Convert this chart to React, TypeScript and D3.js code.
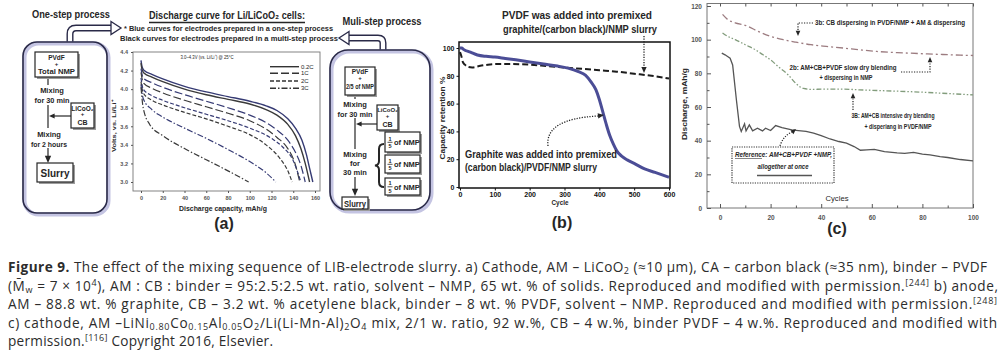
import React, { useEffect, useRef } from 'react';
import * as d3 from 'd3';

type Pt = [number, number];

// (a) discharge curves: [capacity mAh/g, volts]; blue = one-step, black = multi-step
const rateLabels = ['0.2C', '1C', '2C', '3C'];
const oneStep02: Pt[] = [[0, 4.31], [1, 4.24], [3, 4.2], [10, 4.16], [20, 4.11], [40, 4.03], [60, 3.97], [80, 3.92], [100, 3.87], [115, 3.82], [125, 3.77], [135, 3.68], [142, 3.58], [148, 3.45], [152, 3.3], [155, 3.15], [158, 3.0]];
const multiStep02: Pt[] = [[0, 4.28], [1, 4.21], [3, 4.17], [10, 4.13], [20, 4.08], [40, 4.0], [60, 3.94], [80, 3.89], [100, 3.84], [115, 3.78], [125, 3.72], [135, 3.62], [142, 3.5], [147, 3.36], [151, 3.2], [155, 3.0]];
const oneStep1C: Pt[] = [[0, 4.22], [2, 4.12], [10, 4.07], [20, 4.02], [40, 3.94], [60, 3.87], [80, 3.8], [100, 3.72], [115, 3.64], [125, 3.56], [135, 3.45], [142, 3.32], [147, 3.18], [151, 3.0]];
const multiStep1C: Pt[] = [[0, 4.18], [2, 4.07], [10, 4.01], [20, 3.96], [40, 3.88], [60, 3.81], [80, 3.74], [100, 3.66], [115, 3.57], [125, 3.48], [135, 3.36], [141, 3.22], [146, 3.0]];
const oneStep2C: Pt[] = [[0, 4.12], [2, 4.0], [10, 3.93], [20, 3.88], [40, 3.8], [60, 3.73], [80, 3.66], [100, 3.58], [120, 3.47], [130, 3.38], [140, 3.23], [147, 3.0]];
const multiStep2C: Pt[] = [[0, 4.08], [2, 3.96], [10, 3.88], [20, 3.83], [40, 3.75], [60, 3.68], [80, 3.6], [100, 3.51], [115, 3.4], [128, 3.25], [135, 3.12], [139, 3.0]];
const oneStep3C: Pt[] = [[0, 4.05], [2, 3.9], [10, 3.78], [20, 3.7], [40, 3.58], [60, 3.47], [80, 3.35], [100, 3.22], [115, 3.1], [124, 3.0]];
const multiStep3C: Pt[] = [[0, 4.02], [2, 3.8], [8, 3.62], [20, 3.5], [40, 3.36], [60, 3.24], [80, 3.12], [99, 3.0]];
const capTicks = [0, 20, 40, 60, 80, 100, 120, 140, 160];
const voltTicks = [3.0, 3.2, 3.4, 3.6, 3.8, 4.0, 4.2, 4.4];

// (b) capacity retention %: [cycle, %]
const graphiteAddedLast: Pt[] = [[0, 100], [5, 100], [10, 99], [30, 97], [50, 95], [75, 94], [100, 93.5], [130, 92.5], [160, 91.5], [200, 90], [240, 88.5], [280, 87], [310, 85.5], [340, 83], [360, 80.5], [375, 76], [390, 70], [400, 63], [410, 54], [420, 45], [430, 37], [440, 31], [450, 26], [465, 22], [480, 19.5], [500, 17], [530, 13], [560, 10.5], [600, 7]];
const pvdfAddedLast: Pt[] = [[0, 97], [4, 94], [8, 90], [14, 88], [22, 86.5], [35, 86], [55, 87], [80, 88], [110, 88.5], [150, 88.5], [200, 88], [250, 87], [300, 86], [350, 85], [400, 84], [450, 83], [500, 81.5], [550, 80], [600, 78]];
const cycleTicksB = [0, 100, 200, 300, 400, 500, 600];
const retTicks = [0, 20, 40, 60, 80, 100];

// (c) discharge mAh/g: [cycle, value]
const curve3b: Pt[] = [[1, 115], [3, 112], [6, 110], [10, 108.5], [15, 105], [20, 102], [25, 100], [30, 98.5], [36, 97], [42, 96], [49, 95], [55, 94], [62, 93], [70, 92.3], [75, 92], [82, 91.5], [88, 91.2], [95, 90.8], [100, 90.6]];
const curve2b: Pt[] = [[1, 104], [3, 102], [6, 100], [10, 97], [14, 94], [17, 91], [20, 88], [23, 84], [27, 79], [30, 74], [33, 71], [36, 70.5], [42, 70.6], [49, 70.6], [55, 70.2], [62, 69.8], [70, 69.4], [80, 68.8], [90, 68], [100, 67.2]];
const curveRef: Pt[] = [[0.7, 92], [2, 91], [3, 90], [4, 89], [5, 85], [6.5, 64], [7.7, 48.5], [8.4, 45.5], [9.7, 50], [10.3, 45.8], [11.6, 49.4], [12.9, 45.8], [14.8, 47.4], [16.8, 45.8], [18, 47.4], [20, 46], [22, 49], [24.5, 47.8], [28.4, 46.4], [31, 46], [34, 45.5], [37, 44.5], [40, 43], [43.5, 41], [47, 39.5], [50, 38.5], [53, 36.5], [55.5, 34.3], [58, 34.5], [61, 34.8], [65, 33.5], [70, 32.7], [73, 32.5], [76.5, 33], [80, 32], [83, 31.5], [87, 30.5], [90, 30], [95, 28.8], [100, 28]];
const cycleTicksC = [0, 20, 40, 60, 80, 100];
const cycleMinorC = [10, 30, 50, 70, 90];
const dischTicks = [0, 20, 40, 60, 80, 100, 120];
const dischMinor = [10, 30, 50, 70, 90, 110];

const FONT = "'Liberation Sans', Arial, sans-serif";
const BLUE = '#363b74';
const DARK = '#262626';

type AxisProps = {
  scale: any; side: 'bottom' | 'left' | 'top'; at: number; values: number[];
  fmt?: (v: number) => string; tick?: number; size?: number; color?: string; pad?: number; labels?: boolean;
};

function Axis({ scale, side, at, values, fmt, tick = 3, size = 7, color = '#222', pad = 2, labels = true }: AxisProps) {
  const ref = useRef<SVGGElement>(null);
  useEffect(() => {
    const make = side === 'bottom' ? d3.axisBottom : side === 'top' ? d3.axisTop : d3.axisLeft;
    const ax = make(scale).tickValues(values).tickSizeInner(tick).tickSizeOuter(0).tickPadding(pad)
      .tickFormat(labels ? ((fmt || d3.format('d')) as any) : () => '');
    const g = d3.select(ref.current!);
    g.selectAll('*').remove();
    g.call(ax as any);
    g.attr('font-family', null).attr('font-size', null);
    g.select('.domain').remove();
    g.selectAll('line').attr('stroke', color);
    g.selectAll('text').attr('fill', color).attr('font-size', size).attr('font-weight', 'bold');
    if (!labels) g.selectAll('text').remove();
  });
  const tr = side === 'left' ? `translate(${at},0)` : `translate(0,${at})`;
  return <g ref={ref} transform={tr} />;
}

const Txt = ({ x, y, w, size = 8, anchor = 'middle', weight = 'bold', fill = DARK, italic = false, rot = false, children }: any) => (
  <text x={rot ? -y : x} y={rot ? x : y} transform={rot ? 'rotate(-90)' : undefined} fontSize={size}
    textAnchor={anchor} fontWeight={weight} fontStyle={italic ? 'italic' : undefined} fill={fill}
    textLength={w} lengthAdjust={w ? 'spacingAndGlyphs' : undefined}>{children}</text>
);

const Head = ({ x, y, angle, size = 4.5, fill = DARK }: any) => (
  <polygon points={`0,0 ${-size * 1.6},${-size * 0.7} ${-size * 1.6},${size * 0.7}`} fill={fill}
    transform={`translate(${x},${y}) rotate(${angle})`} />
);

const Box = ({ x, y, w, h }: any) => (
  <g>
    <rect x={x + 2} y={y + 2} width={w} height={h} fill="#9c9c9c" />
    <rect x={x} y={y} width={w} height={h} fill="#fff" stroke={DARK} strokeWidth={1.2} />
  </g>
);

const BigBox = ({ x, y, w, h, r }: any) => (
  <g>
    <rect x={x + 1.5} y={y + 1.5} width={w} height={h} rx={r} fill="none" stroke="#c4c4e2" strokeWidth={4} />
    <rect x={x} y={y} width={w} height={h} rx={r} fill="none" stroke="#2a2a48" strokeWidth={1.6} />
  </g>
);

const Hollow = ({ d, head }: any) => (
  <g>
    <path d={d} fill="none" stroke="#2a2a48" strokeWidth={7} />
    <path d={d} fill="none" stroke="#fff" strokeWidth={4.2} />
    <polygon points={head} fill="#fff" stroke="#2a2a48" strokeWidth={1.3} />
  </g>
);

const Frac = ({ x, y }: any) => (
  <g fontFamily={FONT} fontWeight="bold" fill={DARK}>
    <text x={x + 4} y={y - 1.5} fontSize={5.5} textAnchor="middle">1</text>
    <line x1={x + 1.5} x2={x + 6.5} y1={y + 0.3} y2={y + 0.3} stroke={DARK} strokeWidth={0.8} />
    <text x={x + 4} y={y + 6.3} fontSize={5.5} textAnchor="middle">5</text>
    <text x={x + 8} y={y + 3} fontSize={7.5}>of NMP</text>
  </g>
);

function PanelA() {
  const x = d3.scaleLinear().domain([0, 160]).range([141, 315]);
  const y = d3.scaleLinear().domain([3.0, 4.4]).range([182, 52]);
  const line = d3.line<Pt>().x(d => x(d[0])).y(d => y(d[1])).curve(d3.curveMonotoneX);
  const dashes = [undefined, '8,3', '4,2', '6,2,1.5,2'];
  const series = [
    [oneStep02, multiStep02], [oneStep1C, multiStep1C], [oneStep2C, multiStep2C], [oneStep3C, multiStep3C],
  ];
  const legendY = [66.7, 73.3, 81, 88.3];
  return (
    <g fontFamily={FONT}>
      {/* one-step flow chart */}
      <Hollow d="M 70 43 L 70 34 Q 70 28 76 28 L 112 28" head="111,21.5 121,28 111,34.5" />
      <BigBox x={23} y={42} w={84} h={171} r={14} />
      <Txt x={71} y={18} w={78} size={10}>One-step process</Txt>
      <line x1={48} x2={48} y1={77} y2={158} stroke={DARK} strokeWidth={1.2} />
      <Head x={48} y={163} angle={90} />
      <line x1={71} x2={53} y1={116} y2={116} stroke={DARK} strokeWidth={1.2} />
      <Head x={49} y={116} angle={180} size={3.5} />
      <Box x={35} y={52} w={43} h={25} />
      <Txt x={56.5} y={59.5} size={6.5}>PVdF</Txt>
      <Txt x={56.5} y={65.5} size={6}>+</Txt>
      <Txt x={56.5} y={73.5} size={7} w={37}>Total NMP</Txt>
      <rect x={34} y={85} width={36} height={20} fill="#fff" />
      <Txt x={52} y={93} size={7.5}>Mixing</Txt>
      <Txt x={52} y={103} size={7.5} w={35}>for 30 min</Txt>
      <Box x={71} y={103} w={23} h={25} />
      <Txt x={82.5} y={110.5} size={6.5}>LiCoO₂</Txt>
      <Txt x={82.5} y={116} size={6}>+</Txt>
      <Txt x={82.5} y={124.5} size={7}>CB</Txt>
      <rect x={31} y={128} width={38} height={20} fill="#fff" />
      <Txt x={49} y={137} size={7.5}>Mixing</Txt>
      <Txt x={49} y={146.5} size={7.5} w={36}>for 2 hours</Txt>
      <Box x={37} y={163} w={36} h={19} />
      <Txt x={55} y={177} size={10}>Slurry</Txt>

      {/* multi-step flow chart */}
      <Hollow d="M 383 51 L 383 43 Q 383 38 378 38 L 348 38" head="349,31.5 339,38 349,44.5" />
      <BigBox x={330} y={50} w={100} h={160} r={18} />
      <Txt x={382} y={25} w={79} size={10}>Muli-step process</Txt>
      <line x1={355} x2={355} y1={95} y2={191} stroke={DARK} strokeWidth={1.2} />
      <Head x={355} y={196} angle={90} />
      <line x1={377} x2={360} y1={124} y2={124} stroke={DARK} strokeWidth={1.2} />
      <Head x={356} y={124} angle={180} size={3.5} />
      <Box x={345} y={67} w={30} h={28} />
      <Txt x={360} y={73.5} size={6.5}>PVdF</Txt>
      <Txt x={360} y={79.5} size={6}>+</Txt>
      <Txt x={360} y={88.5} size={7} w={28}>2/5 of NMP</Txt>
      <rect x={337} y={99} width={36} height={19} fill="#fff" />
      <Txt x={355} y={107} size={7.5}>Mixing</Txt>
      <Txt x={355} y={116.5} size={7.5} w={35}>for 30 min</Txt>
      <Box x={377} y={105} w={21} h={25} />
      <Txt x={387.5} y={112} size={6}>LiCoO₂</Txt>
      <Txt x={387.5} y={118} size={6}>+</Txt>
      <Txt x={387.5} y={127} size={7}>CB</Txt>
      <rect x={340} y={149} width={30} height={28} fill="#fff" />
      <Txt x={355} y={157} size={7.5}>Mixing</Txt>
      <Txt x={355} y={166} size={7.5}>for</Txt>
      <Txt x={355} y={175} size={7.5}>30 min</Txt>
      <Box x={385} y={132} w={35} h={20} />
      <Box x={385} y={155} w={35} h={18} />
      <Box x={385} y={178} w={35} h={17} />
      <Frac x={386} y={142} />
      <Frac x={386} y={164} />
      <Frac x={386} y={186.5} />
      <path d="M 384 144 Q 379 144 379 149 L 379 161 Q 379 165 375 165.5 Q 379 166 379 170 L 379 182 Q 379 187 384 187"
        fill="none" stroke={DARK} strokeWidth={2} />
      <Box x={342} y={197} w={26} h={12} />
      <Txt x={355} y={206.5} size={8.5} w={22}>Slurry</Txt>

      {/* titles */}
      <Txt x={227} y={19} w={156} size={11}>Discharge curve for Li/LiCoO₂ cells:</Txt>
      <line x1={149} x2={305} y1={22.5} y2={22.5} stroke={DARK} strokeWidth={1.3} />
      <Txt x={124} y={30.5} w={209} size={8} anchor="start">* Blue curves for electrodes prepared in a one-step process</Txt>
      <Txt x={120} y={40.5} w={218} size={8} anchor="start">Black curves for electrodes prepared in a multi-step process</Txt>

      {/* discharge chart */}
      <rect x={133} y={52} width={187} height={139} fill="none" stroke="#777" strokeWidth={0.9} />
      <Axis scale={x} side="bottom" at={191} values={capTicks} tick={2} size={5.5} color="#555" pad={3} />
      <Axis scale={y} side="left" at={133} values={voltTicks} tick={2} size={5.5} color="#555" pad={3} fmt={d3.format('.1f')} />
      {series.map((pair, i) => pair.map((pts, j) => (
        <path key={`${i}-${j}`} d={line(pts) || ''} fill="none" stroke={j === 0 ? BLUE : '#3a3a3a'}
          strokeWidth={i === 0 ? 1.4 : 1.2} strokeDasharray={dashes[i]} />
      )))}
      {rateLabels.map((lab, i) => (
        <g key={lab}>
          <line x1={270} x2={299} y1={legendY[i]} y2={legendY[i]} stroke="#333" strokeWidth={1.4} strokeDasharray={dashes[i]} />
          <Txt x={301} y={legendY[i] + 2} size={6} anchor="start" weight="normal">{lab}</Txt>
        </g>
      ))}
      <Txt x={207} y={59} w={53} size={6} weight="normal">3.0–4.3V (vs. Li/Li⁺) @ 25°C</Txt>
      <Txt x={223} y={211} w={88} size={8}>Discharge capacity, mAh/g</Txt>
      <Txt x={115.5} y={126} w={52} size={6} rot>Volts, vs. Li/Li⁺</Txt>
      <Txt x={224} y={229} size={16}>(a)</Txt>
    </g>
  );
}

function PanelB() {
  const x = d3.scaleLinear().domain([0, 600]).range([460, 669]);
  const y = d3.scaleLinear().domain([0, 100]).range([187, 48]);
  const line = d3.line<Pt>().x(d => x(d[0])).y(d => y(d[1])).curve(d3.curveMonotoneX);
  return (
    <g fontFamily={FONT}>
      <path d={line(pvdfAddedLast) || ''} fill="none" stroke="#1c1c1c" strokeWidth={2} strokeDasharray="6,3" />
      <path d={line(graphiteAddedLast) || ''} fill="none" stroke="#4b4d96" strokeWidth={3} />
      <rect x={459} y={42} width={211} height={146} fill="none" stroke="#111" strokeWidth={1.5} />
      <Axis scale={x} side="bottom" at={188} values={cycleTicksB} tick={2.5} size={7} color="#111" pad={2} />
      <Axis scale={y} side="left" at={459} values={retTicks} tick={2.5} size={7} color="#111" pad={2} />
      <Txt x={560} y={204.5} w={17} size={6.5}>Cycle</Txt>
      <Txt x={445} y={118} w={83} size={6.5} rot>Capacity retention %</Txt>
      <Txt x={562} y={228} size={16}>(b)</Txt>
      <Txt x={577} y={19} w={150} size={10}>PVDF was added into premixed</Txt>
      <Txt x={580} y={33} w={154} size={10}>graphite/(carbon black)/NMP slurry</Txt>
      <path d="M 644 36 L 644 67" fill="none" stroke="#222" strokeWidth={1.3} strokeDasharray="1.2,1.4" />
      <Head x={644} y={73} angle={90} size={3.8} />
      <Txt x={465} y={157.5} w={152} size={10.5} anchor="start">Graphite was added into premixed</Txt>
      <Txt x={465} y={170.5} w={132} size={10.5} anchor="start">(carbon black)/PVDF/NMP slurry</Txt>
      <path d="M 548 146 C 546 128, 562 118, 598 116" fill="none" stroke="#222" strokeWidth={1.3} strokeDasharray="1.2,1.4" />
      <Head x={604} y={115} angle={-8} size={3.8} />
    </g>
  );
}

function PanelC() {
  const x = d3.scaleLinear().domain([0, 100]).range([720, 973]);
  const y = d3.scaleLinear().domain([0, 120]).range([208, 6]);
  const line = d3.line<Pt>().x(d => x(d[0])).y(d => y(d[1]));
  const smooth = d3.line<Pt>().x(d => x(d[0])).y(d => y(d[1])).curve(d3.curveMonotoneX);
  const dot = { fill: 'none', stroke: '#222', strokeWidth: 1.2, strokeDasharray: '1.2,1.4' };
  return (
    <g fontFamily={FONT}>
      <rect x={707} y={3.5} width={266} height={204.5} fill="none" stroke="#777" strokeWidth={1} />
      <Axis scale={x} side="bottom" at={208} values={cycleTicksC} tick={-4} size={6.5} color="#555" pad={7} />
      <Axis scale={x} side="bottom" at={208} values={cycleMinorC} tick={-2.5} color="#555" labels={false} />
      <Axis scale={x} side="top" at={3.5} values={cycleTicksC.concat(cycleMinorC)} tick={-3} color="#555" labels={false} />
      <Axis scale={y} side="left" at={707} values={dischTicks} tick={-4} size={6.5} color="#555" pad={5} />
      <Axis scale={y} side="left" at={707} values={dischMinor} tick={-2.5} color="#555" labels={false} />
      <path d={smooth(curve3b) || ''} fill="none" stroke="#9c7c80" strokeWidth={1.3} strokeDasharray="7,3,2,3" />
      <path d={smooth(curve2b) || ''} fill="none" stroke="#829c7c" strokeWidth={1.3} strokeDasharray="5,2,1.5,2,1.5,2" />
      <path d={line(curveRef) || ''} fill="none" stroke="#555" strokeWidth={1.3} />
      <Txt x={687} y={104} w={72} size={8} rot>Discharge, mAh/g</Txt>
      <Txt x={837} y={201} w={23} size={8} weight="normal">Cycles</Txt>
      <Txt x={837} y={234} size={16}>(c)</Txt>

      <Txt x={815} y={25} w={150} size={7} anchor="start">3b: CB dispersing in PVDF/NMP + AM &amp; dispersing</Txt>
      <path d="M 813 23 L 798 23 L 798 31" {...dot} />
      <Head x={798} y={36} angle={90} size={3.3} />
      <Txt x={843} y={70} w={107} size={7}>2b: AM+CB+PVDF slow dry blending</Txt>
      <Txt x={846} y={80} w={53} size={7}>+ dispersing in NMP</Txt>
      <path d="M 901 72 L 930 72 L 930 62" {...dot} />
      <Head x={930} y={57} angle={-90} size={3.3} />
      <Txt x={893} y={118} w={83} size={7}>3B: AM+CB intensive dry blending</Txt>
      <Txt x={898} y={129} w={67} size={7}>+ disperiang in PVDF/NMP</Txt>
      <path d="M 853 110 L 853 98" {...dot} />
      <Head x={853} y={93} angle={-90} size={3.3} />

      <rect x={732} y={147} width={102} height={36} fill="#fff" stroke="#333" strokeWidth={1.2} strokeDasharray="1.2,1.2" />
      <Txt x={735} y={157} w={97} size={7} anchor="start" italic>Reference:  AM+CB+PVDF +NMP,</Txt>
      <line x1={735} x2={762} y1={158.5} y2={158.5} stroke="#333" strokeWidth={0.6} />
      <Txt x={783} y={169} w={51} size={7} italic>allogether at once</Txt>
      <line x1={757} x2={812} y1={175.5} y2={175.5} stroke="#555" strokeWidth={1.3} />
      <path d="M 780 146 Q 783 136 792 132" {...dot} />
      <Head x={796} y={129} angle={-40} size={3.3} />
    </g>
  );
}

function Caption() {
  const base = { x: 8, fontSize: 13.6, fill: '#2c2c2c', fontFamily: "'Open Sans', 'Noto Sans', sans-serif", lengthAdjust: 'spacing' as const };
  const SUB = 9;
  const D = 2;
  return (
    <g>
      <text {...base} y={272} textLength={979}>
        <tspan fontWeight="bold">Figure 9.</tspan>{'  The effect of the mixing sequence of LIB-electrode slurry. a) Cathode, AM – LiCoO'}
        <tspan fontSize={SUB} dy={D}>2</tspan><tspan dy={-D}>{' (≈10 µm), CA – carbon black (≈35 nm), binder – PVDF'}</tspan>
      </text>
      <text {...base} y={290.6} textLength={990}>
        {'(M̄'}<tspan fontSize={SUB} dy={D}>w</tspan><tspan dy={-D}>{' = 7 × 10'}</tspan>
        <tspan fontSize={SUB} dy={-5}>4</tspan>
        <tspan dy={5}>{'), AM : CB : binder = 95:2.5:2.5 wt. ratio, solvent – NMP, 65 wt. % of solids. Reproduced and modified with permission.'}</tspan>
        <tspan fontSize={SUB} dy={-5}>[244]</tspan><tspan dy={5}>{' b) anode,'}</tspan>
      </text>
      <text {...base} y={309.2} textLength={989}>
        {'AM – 88.8 wt. % graphite, CB – 3.2 wt. % acetylene black, binder – 8 wt. % PVDF, solvent – NMP. Reproduced and modified with permission.'}
        <tspan fontSize={SUB} dy={-5}>[248]</tspan>
      </text>
      <text {...base} y={327.8} textLength={989}>
        {'c) cathode, AM –LiNi'}
        <tspan fontSize={SUB} dy={D}>0.80</tspan><tspan dy={-D}>Co</tspan>
        <tspan fontSize={SUB} dy={D}>0.15</tspan><tspan dy={-D}>Al</tspan>
        <tspan fontSize={SUB} dy={D}>0.05</tspan><tspan dy={-D}>O</tspan>
        <tspan fontSize={SUB} dy={D}>2</tspan><tspan dy={-D}>/Li(Li-Mn-Al)</tspan>
        <tspan fontSize={SUB} dy={D}>2</tspan><tspan dy={-D}>O</tspan>
        <tspan fontSize={SUB} dy={D}>4</tspan>
        <tspan dy={-D}>{' mix, 2/1 w. ratio, 92 w.%, CB – 4 w.%, binder PVDF – 4 w.%. Reproduced and modified with'}</tspan>
      </text>
      <text {...base} y={346.4} textLength={265}>
        {'permission.'}<tspan fontSize={SUB} dy={-5}>[116]</tspan><tspan dy={5}>{' Copyright 2016, Elsevier.'}</tspan>
      </text>
    </g>
  );
}

export default function App() {
  return (
    <div style={{ position: 'absolute', left: 0, top: 0, width: 1002, height: 352, overflow: 'hidden', background: '#fff' }}>
      <svg width={1002} height={352} style={{ display: 'block' }}>
        <rect width={1002} height={352} fill="#fff" />
        <PanelA />
        <PanelB />
        <PanelC />
        <Caption />
      </svg>
    </div>
  );
}
